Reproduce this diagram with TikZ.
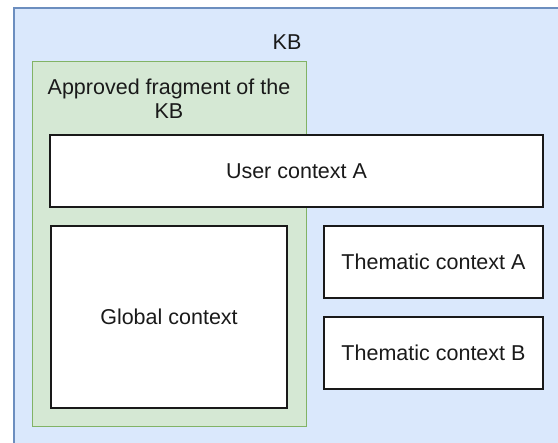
\documentclass[tikz,border=0pt]{standalone}
\usepackage{fontspec}
\setmainfont{Liberation Sans}
\definecolor{kbfill}{HTML}{DAE8FC}
\definecolor{kbline}{HTML}{6C8EBF}
\definecolor{okfill}{HTML}{D5E8D4}
\definecolor{okline}{HTML}{82B366}
\definecolor{inktext}{HTML}{1A1A1A}
\tikzset{
  lbl/.style={font=\fontsize{21.5}{24.5}\selectfont, text=inktext, inner sep=0pt, align=center},
  kbbox/.style={draw=kbline, fill=kbfill, line width=1.6pt, inner sep=0pt, anchor=north west},
  okbox/.style={draw=okline, fill=okfill, line width=1.2pt, inner sep=0pt, anchor=north west},
  ctxbox/.style={draw=black!90, fill=white, line width=1.5pt, inner sep=0pt, lbl}
}
\begin{document}
\begin{tikzpicture}[x=1pt,y=-1pt]
\useasboundingbox (0,0) rectangle (558,443);
\clip (0,0) rectangle (558,443);
\fill[white] (0,0) rectangle (558,443);
% knowledge base container (runs past the right and bottom edges)
\node[kbbox, minimum width=560pt, minimum height=450pt] (kb) at (13,7) {};
\node[lbl] (kblabel) at (287,42) {KB};
% approved fragment
\node[okbox, minimum width=274pt, minimum height=365pt] (approved) at (32,61) {};
\node[lbl] (approvedlabel) at (169,98.5) {Approved fragment of the\\KB};
% contexts
\node[ctxbox, minimum width=493pt, minimum height=72pt] (user) at (296.5,171) {User context A};
\node[ctxbox, minimum width=236pt, minimum height=182pt] (global) at (169,317) {Global context};
\node[ctxbox, minimum width=219pt, minimum height=72pt] (thA) at (433.5,262) {Thematic context A};
\node[ctxbox, minimum width=219pt, minimum height=72pt] (thB) at (433.5,353) {Thematic context B};
\end{tikzpicture}
\end{document}
